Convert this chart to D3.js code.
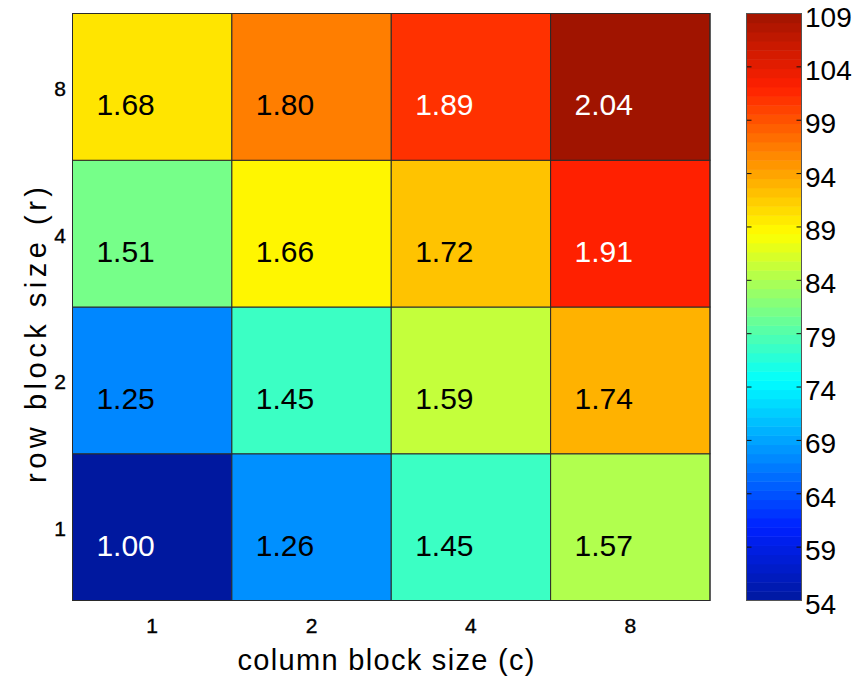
<!DOCTYPE html>
<html>
<head>
<meta charset="utf-8">
<script src="https://cdn.jsdelivr.net/npm/d3@7"></script>
<style>
  html, body { margin: 0; padding: 0; background: #fff; }
  svg { display: block; }
  text { font-family: "Liberation Sans", Arial, Helvetica, sans-serif; fill: #000; }
</style>
</head>
<body>
<svg id="chart" width="862" height="679"></svg>
<script>
// Block sizes along each axis
const colSizes = ["1", "2", "4", "8"];
const rowSizes = ["1", "2", "4", "8"];

// Speedup for each (row block size, column block size), rows listed 1,2,4,8
const speedupR1 = [1.00, 1.26, 1.45, 1.57];
const speedupR2 = [1.25, 1.45, 1.59, 1.74];
const speedupR4 = [1.51, 1.66, 1.72, 1.91];
const speedupR8 = [1.68, 1.80, 1.89, 2.04];

// Colour bar tick labels (Mflop/s)
const barTicks = [54, 59, 64, 69, 74, 79, 84, 89, 94, 99, 104, 109];

const speedups = [speedupR1, speedupR2, speedupR4, speedupR8];
const cells = [];
rowSizes.forEach((r, i) => colSizes.forEach((c, j) => cells.push({ r, c, v: speedups[i][j] })));

const svg = d3.select("#chart");

const plot = { left: 72.5, right: 710, top: 13.5, bottom: 600.5 };
const bar = { left: 746.5, right: 801.5 };

const x = d3.scaleBand().domain(colSizes).range([plot.left, plot.right]);
const y = d3.scaleBand().domain(rowSizes).range([plot.bottom, plot.top]);

// jet colour map
const vMin = d3.min(cells, d => d.v), vMax = d3.max(cells, d => d.v);
const jet = d3.scaleLinear()
  .domain([0, 1 / 8, 3 / 8, 5 / 8, 7 / 8, 1])
  .range(["#00189f", "#0020ff", "#00ffff", "#ffff00", "#ff2000", "#a01400"])
  .clamp(true);
const tOf = v => (v - vMin) / (vMax - vMin);
const color = v => jet(tOf(v));

// Heatmap cells
svg.append("g").selectAll("rect").data(cells).join("rect")
  .attr("x", d => x(d.c))
  .attr("y", d => y(d.r))
  .attr("width", x.bandwidth())
  .attr("height", y.bandwidth())
  .attr("fill", d => color(d.v))
  .attr("stroke", "#2a2a2a")
  .attr("stroke-width", 1);

// Cell value labels
svg.append("g").selectAll("text").data(cells).join("text")
  .attr("x", d => x(d.c) + x.bandwidth() * 0.15)
  .attr("y", d => y(d.r) + y.bandwidth() / 2 + 28.5)
  .attr("font-size", 30)
  .style("fill", d => (tOf(d.v) < 0.1 || tOf(d.v) > 0.8) ? "#fff" : "#000")
  .text(d => d.v.toFixed(2));

// Plot frame
svg.append("rect")
  .attr("x", plot.left).attr("y", plot.top)
  .attr("width", plot.right - plot.left).attr("height", plot.bottom - plot.top)
  .attr("fill", "none").attr("stroke", "#2a2a2a").attr("stroke-width", 1);

// Axis tick labels
svg.append("g").selectAll("text").data(colSizes).join("text")
  .attr("x", d => x(d) + x.bandwidth() / 2)
  .attr("y", 633)
  .attr("text-anchor", "middle")
  .attr("font-size", 21)
  .attr("stroke", "#000").attr("stroke-width", 0.4)
  .text(d => d);

svg.append("g").selectAll("text").data(rowSizes).join("text")
  .attr("x", 66)
  .attr("y", d => y(d) + y.bandwidth() / 2 + 9)
  .attr("text-anchor", "end")
  .attr("font-size", 21)
  .attr("stroke", "#000").attr("stroke-width", 0.4)
  .text(d => d);

// Axis titles
svg.append("text")
  .attr("x", 386).attr("y", 670)
  .attr("text-anchor", "middle")
  .attr("font-size", 29)
  .attr("textLength", 297)
  .attr("lengthAdjust", "spacing")
  .text("column block size (c)");

svg.append("text")
  .attr("transform", "translate(46,335) rotate(-90)")
  .attr("text-anchor", "middle")
  .attr("font-size", 29)
  .attr("textLength", 296)
  .attr("lengthAdjust", "spacing")
  .text("row block size (r)");

// Colour bar
const barScale = d3.scaleLinear().domain([barTicks[0], barTicks[barTicks.length - 1]]).range([plot.bottom, plot.top]);
const nBands = 64;
const bandH = (plot.bottom - plot.top) / nBands;
svg.append("g").selectAll("rect").data(d3.range(nBands)).join("rect")
  .attr("x", bar.left)
  .attr("y", i => plot.bottom - (i + 1) * bandH)
  .attr("width", bar.right - bar.left)
  .attr("height", bandH + 0.5)
  .attr("fill", i => jet((i + 0.5) / nBands));

const barG = svg.append("g");
barG.selectAll("line.l").data(barTicks).join("line")
  .attr("class", "l")
  .attr("x1", bar.left).attr("x2", bar.left + 5)
  .attr("y1", d => barScale(d)).attr("y2", d => barScale(d))
  .attr("stroke", "#111");
barG.selectAll("line.r").data(barTicks).join("line")
  .attr("class", "r")
  .attr("x1", bar.right - 5).attr("x2", bar.right)
  .attr("y1", d => barScale(d)).attr("y2", d => barScale(d))
  .attr("stroke", "#111");
barG.append("rect")
  .attr("x", bar.left).attr("y", plot.top)
  .attr("width", bar.right - bar.left).attr("height", plot.bottom - plot.top)
  .attr("fill", "none").attr("stroke", "#555").attr("stroke-width", 1);
barG.selectAll("text").data(barTicks).join("text")
  .attr("x", 805)
  .attr("y", d => barScale(d) + 13)
  .attr("font-size", 28)
  .text(d => d);
</script>
</body>
</html>
